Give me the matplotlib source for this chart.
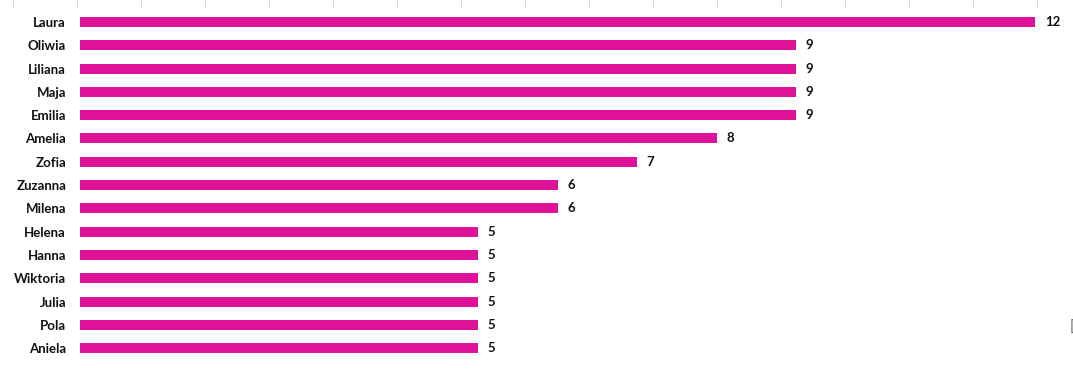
import matplotlib.pyplot as plt
import numpy as np

names = ['Laura', 'Oliwia', 'Liliana', 'Maja', 'Emilia', 'Amelia', 'Zofia',
         'Zuzanna', 'Milena', 'Helena', 'Hanna', 'Wiktoria', 'Julia', 'Pola', 'Aniela']
counts = [12, 9, 9, 9, 9, 8, 7, 6, 6, 5, 5, 5, 5, 5, 5]

plt.rcParams['font.family'] = ['Lato', 'DejaVu Sans']

W, H = 1073, 378
fig = plt.figure(figsize=(W / 100, H / 100), dpi=100)
ax = fig.add_axes([80 / W, 0, 990 / W, 1])

y = np.arange(len(names))
ax.barh(y, counts, height=0.43, color='#DD1299')
ax.set_xlim(0, 990 / 79.6)
ax.set_ylim(15.28, -0.944)

for yi, v in zip(y, counts):
    ax.text(v + 0.12, yi, str(v), va='center', ha='left',
            fontsize=9.5, fontweight='bold', color='#111111')

ax.set_yticks(y)
ax.set_yticklabels(names, fontsize=9.5, fontweight='bold', color='#111111')
ax.tick_params(axis='y', length=0, pad=10)
ax.set_xticks([])
for s in ax.spines.values():
    s.set_visible(False)

# faint gridline stubs along the top edge
for px in np.arange(12.7, W, 64):
    fig.add_artist(plt.Line2D([px / W, px / W], [1, 1 - 7 / H],
                              transform=fig.transFigure, color='#d9d9d9', lw=0.8))

fig.text(1070 / W, 1 - 328 / H, '[', fontsize=11, color='#666666', va='center', ha='left')

fig.savefig('out.png', dpi=100)
